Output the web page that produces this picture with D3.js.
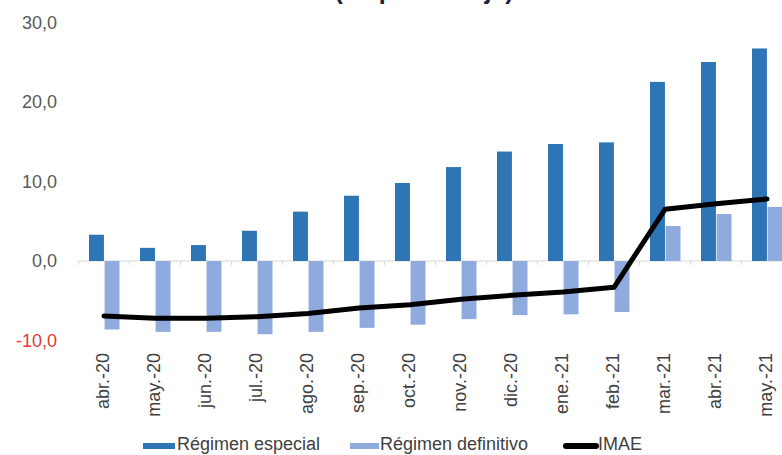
<!DOCTYPE html>
<html lang="es">
<head>
<meta charset="utf-8">
<script src="https://cdn.jsdelivr.net/npm/d3@7"></script>
<style>
  html, body { margin: 0; padding: 0; background: #fff; }
  svg { display: block; font-family: "Liberation Sans", Arial, sans-serif; }
</style>
</head>
<body>
<svg id="chart" width="782" height="455"></svg>
<script>
// Meses (abril 2020 – mayo 2021)
const categories = ["abr.-20","may.-20","jun.-20","jul.-20","ago.-20","sep.-20","oct.-20",
                    "nov.-20","dic.-20","ene.-21","feb.-21","mar.-21","abr.-21","may.-21"];
// Variación interanual por régimen (%)
const regimenEspecial   = [3.3, 1.65, 2.0, 3.8, 6.2, 8.2, 9.8, 11.8, 13.75, 14.7, 14.9, 22.5, 25.0, 26.7];
const regimenDefinitivo = [-8.6, -8.9, -8.9, -9.2, -8.9, -8.4, -8.0, -7.3, -6.8, -6.7, -6.4, 4.4, 5.9, 6.8];
const imae              = [-6.9, -7.2, -7.2, -7.0, -6.6, -5.9, -5.5, -4.8, -4.3, -3.9, -3.3, 6.5, 7.2, 7.8];
const yTicks = [-10, 0, 10, 20, 30];
const seriesNames = ["Régimen especial", "Régimen definitivo", "IMAE"];

const colors = { esp: "#2e75b6", def: "#8faadc", imae: "#000000" };

const svg = d3.select("#chart");

const x = d3.scaleBand().domain(categories).range([78.5, 78.5 + 51 * categories.length]).padding(0);
const y = d3.scaleLinear().domain([-10, 30]).range([340.6, 22.2]);
const inner = d3.scaleBand().domain(["esp", "def"])
  .range([10.5, 41]).paddingInner(0.04);

const fmt = v => d3.format(".1f")(v).replace(".", ",").replace("−", "-");

// Título (subtítulo entre paréntesis)
svg.append("text")
  .attr("x", 424).attr("y", -1)
  .attr("text-anchor", "middle")
  .attr("font-size", 25).attr("font-weight", "bold")
  .attr("fill", "#1a2440")
  .text("(en porcentaje)");

// Eje Y: etiquetas
svg.append("g").selectAll("text").data(yTicks).join("text")
  .attr("x", 57).attr("y", d => y(d))
  .attr("dy", "0.36em")
  .attr("text-anchor", "end")
  .attr("font-size", 18)
  .attr("fill", d => d < 0 ? "#e53935" : "#595959")
  .text(fmt);

// Línea del cero con marcas de categoría
const zeroAxis = d3.axisBottom(x).tickSize(4).tickFormat("").tickSizeOuter(0);
const gz = svg.append("g").attr("transform", `translate(0,${y(0)})`);
gz.append("line")
  .attr("x1", x.range()[0]).attr("x2", x.range()[1])
  .attr("stroke", "#d9d9d9").attr("stroke-width", 1);
gz.selectAll("line.tk").data(d3.range(categories.length + 1)).join("line")
  .attr("class", "tk")
  .attr("x1", i => x.range()[0] + i * x.step()).attr("x2", i => x.range()[0] + i * x.step())
  .attr("y1", 0).attr("y2", 4)
  .attr("stroke", "#d9d9d9");

// Barras
const bars = svg.append("g");
categories.forEach((c, i) => {
  [["esp", regimenEspecial[i]], ["def", regimenDefinitivo[i]]].forEach(([k, v]) => {
    bars.append("rect")
      .attr("x", x(c) + inner(k))
      .attr("width", inner.bandwidth())
      .attr("y", Math.min(y(v), y(0)))
      .attr("height", Math.abs(y(v) - y(0)))
      .attr("fill", colors[k]);
  });
});

// Línea IMAE
const line = d3.line()
  .x((d, i) => x(categories[i]) + x.bandwidth() / 2)
  .y(d => y(d));
svg.append("path")
  .datum(imae)
  .attr("d", line)
  .attr("fill", "none")
  .attr("stroke", colors.imae)
  .attr("stroke-width", 5)
  .attr("stroke-linecap", "round")
  .attr("stroke-linejoin", "round");

// Etiquetas del eje X (verticales)
svg.append("g").selectAll("text").data(categories).join("text")
  .attr("transform", d => `translate(${x(d) + x.bandwidth() / 2 - 1},353) rotate(-90)`)
  .attr("dy", "0.35em")
  .attr("text-anchor", "end")
  .attr("font-size", 18)
  .attr("fill", "#404040")
  .text(d => d);

// Leyenda
const legend = svg.append("g");
const legItems = [
  { name: seriesNames[0], type: "rect", color: colors.esp, sx: 143, sw: 32, tx: 177 },
  { name: seriesNames[1], type: "rect", color: colors.def, sx: 350, sw: 29, tx: 380 },
  { name: seriesNames[2], type: "line", color: colors.imae, sx: 563, sw: 34, tx: 598 }
];
legItems.forEach(it => {
  if (it.type === "rect") {
    legend.append("rect")
      .attr("x", it.sx).attr("y", 443).attr("width", it.sw).attr("height", 6)
      .attr("fill", it.color);
  } else {
    legend.append("line")
      .attr("x1", it.sx + 3).attr("x2", it.sx + it.sw - 1)
      .attr("y1", 446).attr("y2", 446)
      .attr("stroke", it.color).attr("stroke-width", 6)
      .attr("stroke-linecap", "round");
  }
  legend.append("text")
    .attr("x", it.tx).attr("y", 450)
    .attr("font-size", 18)
    .attr("fill", "#404040")
    .text(it.name);
});
</script>
</body>
</html>
